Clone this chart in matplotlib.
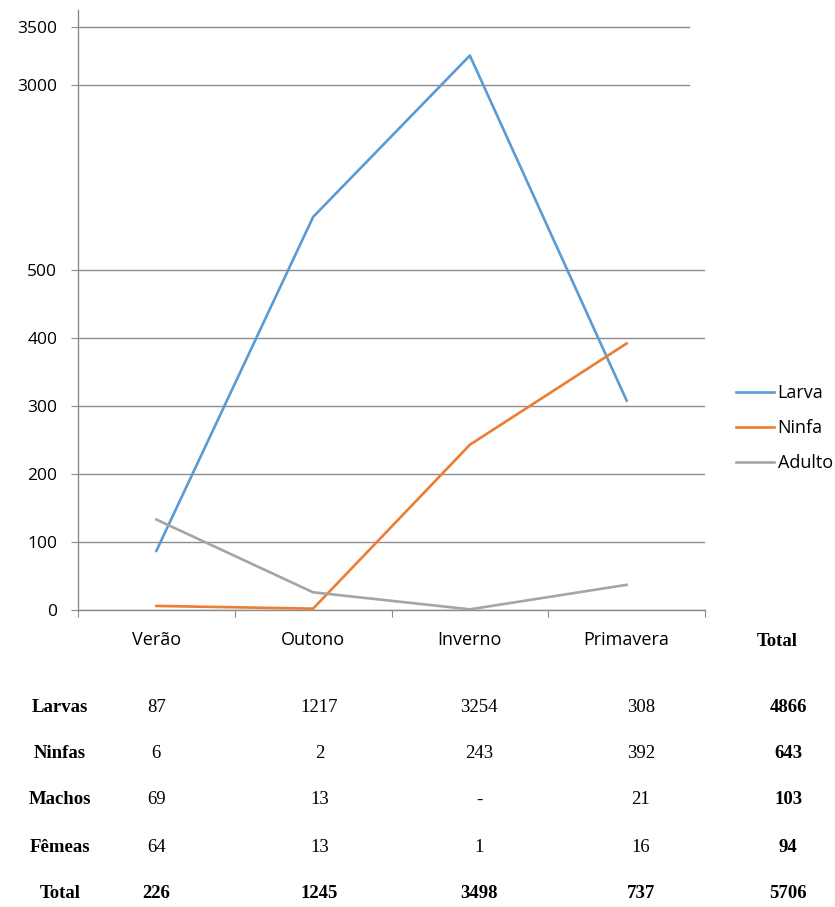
import numpy as np
import matplotlib
matplotlib.use("Agg")
import matplotlib.pyplot as plt
from matplotlib.ticker import FixedLocator, NullLocator
from matplotlib.transforms import blended_transform_factory

# ========== DATA ========== #
estacoes = ["Verão", "Outono", "Inverno", "Primavera"]
larva = [87, 1217, 3254, 308]
ninfa = [6, 2, 243, 392]
adulto = [133, 26, 1, 37]

yticks = [0, 100, 200, 300, 400, 500, 3000, 3500]

linhas_tabela = ["Larvas", "Ninfas", "Machos", "Fêmeas", "Total"]
valores_tabela = [
    ["87", "1217", "3254", "308", "4866"],
    ["6", "2", "243", "392", "643"],
    ["69", "13", "-", "21", "103"],
    ["64", "13", "1", "16", "94"],
    ["226", "1245", "3498", "737", "5706"],
]

# ========== LAYOUT ========== #
COL_X = [0.0, 1.04, 2.06, 3.09, 4.03]      # colunas da tabela (unidades do eixo x)
ROW_Y = [707, 753, 800, 848, 893]          # linhas da tabela (pixels a partir do topo)

# ========== ESCALA QUEBRADA (0-500 | 500-3000 comprimido | 3000-3500) ========== #
brk_v = np.array([0, 500, 3000, 3500, 4000])
brk_p = np.array([0, 340, 525, 583, 641])

def fwd(v):
    return np.interp(v, brk_v, brk_p)

def inv(p):
    return np.interp(p, brk_p, brk_v)

SANS = "Open Sans"
SERIF = "Liberation Serif"
GRID = "#8c8c8c"

fig = plt.figure(figsize=(8.35, 9.07), dpi=100)
ax = fig.add_axes([78 / 835, 1 - 610 / 907, 627 / 835, 600 / 907])

ax.set_yscale("function", functions=(fwd, inv))
ax.set_ylim(0, inv(600))
ax.set_xlim(-0.5, len(estacoes) - 0.5)

x = np.arange(len(estacoes))
ax.plot(x, larva, color="#5B9BD5", lw=1.9, label="Larva", zorder=3)
ax.plot(x, ninfa, color="#ED7D31", lw=1.9, label="Ninfa", zorder=3)
ax.plot(x, adulto, color="#A5A5A5", lw=1.9, label="Adulto", zorder=3)

# grade
for t in yticks:
    xmax = 0.974 if t >= 3000 else 1.0
    ax.axhline(t, xmin=0, xmax=xmax, color=GRID, lw=1, zorder=1)

for s in ["top", "right"]:
    ax.spines[s].set_visible(False)
for s in ["left", "bottom"]:
    ax.spines[s].set_color(GRID)
    ax.spines[s].set_linewidth(1)

ax.yaxis.set_major_locator(FixedLocator(yticks))
ax.yaxis.set_minor_locator(NullLocator())
ax.set_yticklabels([str(t) for t in yticks], fontsize=12.5, family=SANS)
ax.tick_params(axis="y", length=5, color=GRID, pad=10)

ax.xaxis.set_major_locator(FixedLocator(np.arange(-0.5, len(estacoes))))
ax.xaxis.set_minor_locator(FixedLocator(x))
ax.set_xticklabels([], minor=False)
ax.set_xticklabels(estacoes, minor=True, fontsize=13, family=SANS)
ax.tick_params(axis="x", which="major", length=5, color=GRID)
ax.tick_params(axis="x", which="minor", length=0, pad=15)

ax.legend(loc="center left", bbox_to_anchor=(736 / 835, 1 - 428 / 907),
          bbox_transform=fig.transFigure, frameon=False, borderpad=0,
          borderaxespad=0, handlelength=2.1, handletextpad=0.2,
          labelspacing=0.95, prop={"family": SANS, "size": 13})

# ========== TABELA ========== #
tr = blended_transform_factory(ax.transData, fig.transFigure)
ax.text(3.96, 1 - 642 / 907, "Total", transform=tr, ha="center", va="center",
        family=SERIF, fontsize=13.5, fontweight="bold")

for r, nome in enumerate(linhas_tabela):
    y = 1 - ROW_Y[r] / 907
    fig.text(60 / 835, y, nome, ha="center", va="center", family=SERIF,
             fontsize=13.5, fontweight="bold")
    for c, val in enumerate(valores_tabela[r]):
        bold = (c == 4) or (r == len(linhas_tabela) - 1)
        ax.text(COL_X[c], y, val, transform=tr, ha="center", va="center",
                family=SERIF, fontsize=13.5,
                fontweight="bold" if bold else "normal", clip_on=False)

fig.savefig("out.png", dpi=100)
